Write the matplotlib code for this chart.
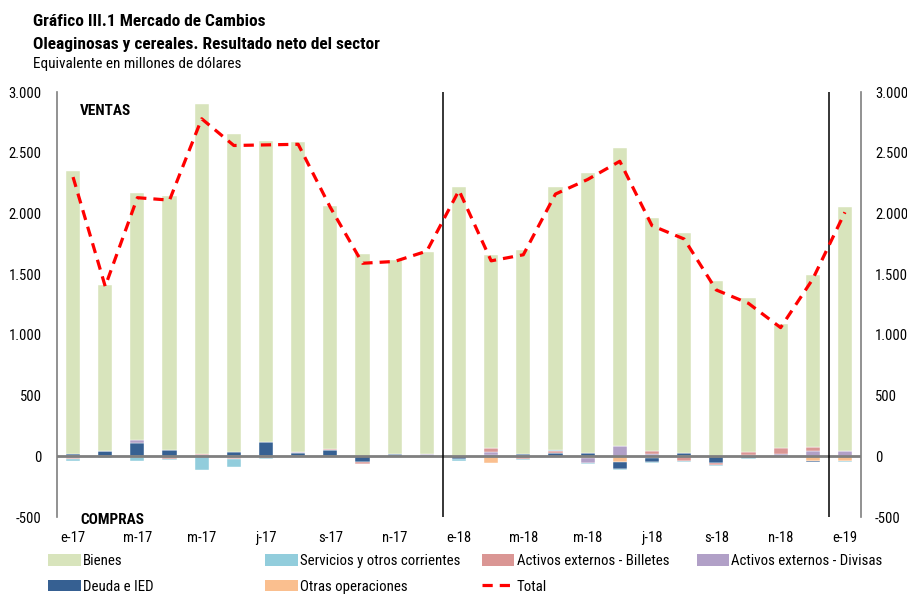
import matplotlib
matplotlib.use("Agg")
import matplotlib.pyplot as plt
import numpy as np
from matplotlib.patches import Patch
from matplotlib.lines import Line2D

plt.rcParams['font.family'] = ['Roboto Condensed', 'Liberation Sans Narrow', 'Roboto', 'DejaVu Sans']

months = ['e-17', 'f-17', 'm-17', 'a-17', 'm-17', 'j-17', 'j-17', 'a-17', 's-17', 'o-17', 'n-17', 'd-17',
          'e-18', 'f-18', 'm-18', 'a-18', 'm-18', 'j-18', 'j-18', 'a-18', 's-18', 'o-18', 'n-18', 'd-18',
          'e-19']

# millones de dolares
bienes = [2335, 1365, 2035, 2095, 2880, 2620, 2480, 2555, 1997, 1665, 1595, 1659,
          2215, 1586, 1677, 2166, 2307, 2453, 1921, 1812, 1442, 1264, 1023, 1411,
          2007]
servicios = [-15, -10, -35, -10, -110, -65, -5, -5, -5, -5, -5, -5,
             -15, 0, -10, 5, -5, -5, -5, -5, -10, -5, -5, 0,
             -10]
billetes = [-10, 0, -5, -15, 8, -15, -15, 0, 8, -10, 0, 0,
            0, 35, -20, 15, 0, 0, 25, -40, -15, 30, 45, 40,
            0]
divisas = [-10, 5, 25, 0, 0, -10, 0, 10, 0, 0, 0, 8,
           0, 25, 0, 0, -40, 85, 15, 0, 0, 8, 20, 40,
           45]
deuda = [15, 40, 110, 50, 12, 35, 115, 25, 55, -50, 20, 8,
         -20, 10, 20, 30, 25, -55, -35, 25, -50, -15, 0, -10,
         0]
otras = [0, 0, 0, -5, 0, 0, 0, 0, 0, 0, 0, 5,
         0, -55, 0, 0, -15, -50, -15, 0, -5, 0, 0, -40,
         -35]
total = [2300, 1400, 2130, 2110, 2780, 2560, 2565, 2570, 2050, 1590, 1605, 1690,
         2190, 1610, 1660, 2160, 2280, 2430, 1900, 1790, 1370, 1260, 1060, 1460,
         2010]

yticks = [-500, 0, 500, 1000, 1500, 2000, 2500, 3000]
ytick_labels = ['-500', '0', '500', '1.000', '1.500', '2.000', '2.500', '3.000']

# stacking order (closest to zero first)
series = [
    ('Otras operaciones', otras, '#fabf8f'),
    ('Deuda e IED', deuda, '#366092'),
    ('Activos externos - Divisas', divisas, '#b1a0c7'),
    ('Activos externos - Billetes', billetes, '#da9694'),
    ('Servicios y otros corrientes', servicios, '#92cddc'),
    ('Bienes', bienes, '#d8e4bc'),
]

fig = plt.figure(figsize=(9.07, 5.94), dpi=100)
ax = fig.add_axes([0.0628, 0.1296, 0.8865, 0.7154])

x = np.arange(len(months))
pos_base = np.zeros(len(months))
neg_base = np.zeros(len(months))
for name, vals, col in series:
    v = np.array(vals, dtype=float)
    bottom = np.where(v >= 0, pos_base, neg_base)
    ax.bar(x, v, bottom=bottom, width=0.44, color=col, edgecolor='white', linewidth=0.3, zorder=2)
    pos_base += np.where(v >= 0, v, 0)
    neg_base += np.where(v < 0, v, 0)

ax.plot(x, total, color='#ff0000', lw=2.3, ls=(0, (3.2, 2.2)), zorder=4)

ax.axhline(0, color='#7f7f7f', lw=2, zorder=3)
for xv in [11.5, 23.5]:
    ax.axvline(xv, color='black', lw=1.1, zorder=3)

ax.set_xlim(-0.5, len(months) - 0.5)
ax.set_ylim(-500, 3000)
ax.set_yticks(yticks)
ax.set_yticklabels(ytick_labels)
ax.set_xticks(x[::2])
ax.set_xticklabels(months[::2])
ax.tick_params(axis='both', length=0, labelsize=10.5, colors='black')
ax.tick_params(axis='y', pad=11)
ax.tick_params(axis='x', pad=10)
for s in ['top', 'bottom']:
    ax.spines[s].set_visible(False)
for s in ['left', 'right']:
    ax.spines[s].set_color('#7f7f7f')
    ax.spines[s].set_linewidth(1.2)

ax2 = ax.twinx()
ax2.set_ylim(ax.get_ylim())
ax2.set_yticks(yticks)
ax2.set_yticklabels(ytick_labels)
ax2.tick_params(axis='y', length=0, labelsize=10.5, pad=10)
for s in ax2.spines.values():
    s.set_visible(False)

ax.text(0.029, 0.955, 'VENTAS', transform=ax.transAxes, fontsize=11, fontweight='bold', va='center')
ax.text(0.029, -0.008, 'COMPRAS', transform=ax.transAxes, fontsize=11, fontweight='bold', va='center')

fig.text(0.036, 0.964, 'Gráfico III.1 Mercado de Cambios', fontsize=12.5, fontweight='bold', va='center')
fig.text(0.036, 0.925, 'Oleaginosas y cereales. Resultado neto del sector', fontsize=12.5, fontweight='bold', va='center')
fig.text(0.036, 0.892, 'Equivalente en millones de dólares', fontsize=11, va='center')

# legend, built column by column
colors = {name: col for name, _, col in series}
cols = [
    [('Bienes', 'patch'), ('Deuda e IED', 'patch')],
    [('Servicios y otros corrientes', 'patch'), ('Otras operaciones', 'patch')],
    [('Activos externos - Billetes', 'patch'), ('Total', 'line')],
    [('Activos externos - Divisas', 'patch')],
]
col_x = [0.053, 0.292, 0.531, 0.768]
for cx, entries in zip(col_x, cols):
    handles = []
    for name, kind in entries:
        if kind == 'patch':
            handles.append(Patch(facecolor=colors[name], edgecolor='none', label=name))
        else:
            handles.append(Line2D([], [], color='#ff0000', lw=2.3, ls=(0, (3.2, 2.2)), label=name))
    fig.legend(handles=handles, loc='upper left', bbox_to_anchor=(cx, 0.067), frameon=False,
               fontsize=10.7, handlelength=2.2, handleheight=0.8, handletextpad=0.15,
               labelspacing=0.78, borderpad=0, borderaxespad=0)

fig.savefig('out.png', dpi=100)
